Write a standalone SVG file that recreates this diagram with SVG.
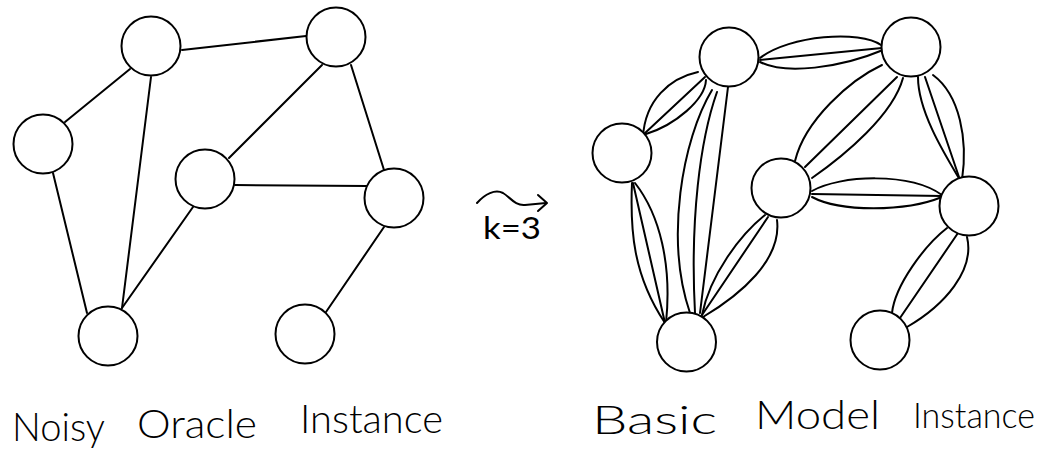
<svg xmlns="http://www.w3.org/2000/svg" width="1046" height="458" viewBox="0 0 1046 458">
<style>
.edge{fill:none;stroke:#000;stroke-width:2;stroke-linecap:round;stroke-linejoin:round}
.node{fill:#fff;stroke:#000;stroke-width:2}
.lbl{font-family:Lato,"Liberation Sans",sans-serif;font-weight:300;font-size:40px;fill:#000}
</style>
<rect width="1046" height="458" fill="#fff"/>
<g id="edges-left" class="edge">
<path d="M182,50 L306,36"/>
<path d="M130,69 L65,122"/>
<path d="M151,77 L122,308"/>
<path d="M53,173 L87,313"/>
<path d="M193,207 L122,308"/>
<path d="M229,158 L322,65"/>
<path d="M235,185 L367,186"/>
<path d="M351,65 L384,170"/>
<path d="M384,227 L326,312"/>
</g>
<g id="nodes-left">
<g id="L-A"><circle class="node" cx="151" cy="46" r="29.5"/></g>
<g id="L-B"><circle class="node" cx="336" cy="37" r="29.5"/></g>
<g id="L-C"><circle class="node" cx="43" cy="144" r="29.5"/></g>
<g id="L-D"><circle class="node" cx="205" cy="179" r="29.5"/></g>
<g id="L-E"><circle class="node" cx="394" cy="198" r="29.5"/></g>
<g id="L-F"><circle class="node" cx="108" cy="336" r="29.5"/></g>
<g id="L-G"><circle class="node" cx="305" cy="334" r="29.5"/></g>
</g>
<g id="edges-right" class="edge">
<path d="M760,58 C790,35 860,30 881,45"/>
<path d="M760,60 L882,48"/>
<path d="M760,62 C785,75 840,68 883,50"/>
<path d="M698,72 C670,78 645,100 643,137"/>
<path d="M705,77 L644,134"/>
<path d="M706,80 C705,100 675,125 646,134"/>
<path d="M712,90 C682,140 665,240 690,313"/>
<path d="M717,92 C700,140 690,220 695,313"/>
<path d="M728,87 L700,313"/>
<path d="M632,183 C630,230 633,275 665,323"/>
<path d="M633,183 L665,323"/>
<path d="M635,183 C660,215 672,265 666,323"/>
<path d="M765,215 C740,235 710,275 702,315"/>
<path d="M768,217 L702,315"/>
<path d="M777,220 C782,260 740,295 703,317"/>
<path d="M882,65 C850,80 805,120 795,161"/>
<path d="M897,77 L805,167"/>
<path d="M903,78 C893,115 845,155 812,178"/>
<path d="M918,77 C918,110 942,150 960,180"/>
<path d="M925,77 L960,180"/>
<path d="M933,75 C960,95 968,140 962,180"/>
<path d="M812,191 C840,175 910,172 942,195"/>
<path d="M812,194 L942,196"/>
<path d="M812,197 C840,212 905,212 942,197"/>
<path d="M947,228 C925,245 895,285 892,313"/>
<path d="M958,233 L900,318"/>
<path d="M967,237 C975,270 945,305 907,327"/>
</g>
<g id="nodes-right">
<g id="R-A"><circle class="node" cx="729" cy="57" r="29.5"/></g>
<g id="R-B"><circle class="node" cx="911" cy="47" r="29.5"/></g>
<g id="R-C"><circle class="node" cx="622" cy="153" r="29.5"/></g>
<g id="R-D"><circle class="node" cx="781" cy="188" r="29.5"/></g>
<g id="R-E"><circle class="node" cx="969" cy="206" r="29.5"/></g>
<g id="R-F"><circle class="node" cx="686.5" cy="342" r="29.5"/></g>
<g id="R-G"><circle class="node" cx="880" cy="340" r="29.5"/></g>
</g>
<g id="transform-arrow">
<path class="edge" d="M477,203 C485,194 495,189 503,193 C510,197 515,206 525,205 L546,203"/>
<path class="edge" d="M538,195 L547,203 L538,211"/>
<text x="483" y="239" font-family="Lato,'Liberation Sans',sans-serif" font-weight="400" font-size="30" textLength="58" lengthAdjust="spacingAndGlyphs">k=3</text>
</g>
<text class="lbl" id="label-left"><tspan x="12" y="441" textLength="93" lengthAdjust="spacingAndGlyphs">Noisy</tspan><tspan x="137" y="438" textLength="120" lengthAdjust="spacingAndGlyphs">Oracle</tspan><tspan x="300" y="433" textLength="143" lengthAdjust="spacingAndGlyphs">Instance</tspan></text>
<text class="lbl" id="label-right"><tspan x="592" y="434" textLength="125" lengthAdjust="spacingAndGlyphs">Basic</tspan><tspan x="755" y="429" textLength="125" lengthAdjust="spacingAndGlyphs">Model</tspan><tspan x="913" y="428" font-size="35" textLength="122" lengthAdjust="spacingAndGlyphs">Instance</tspan></text>
</svg>
